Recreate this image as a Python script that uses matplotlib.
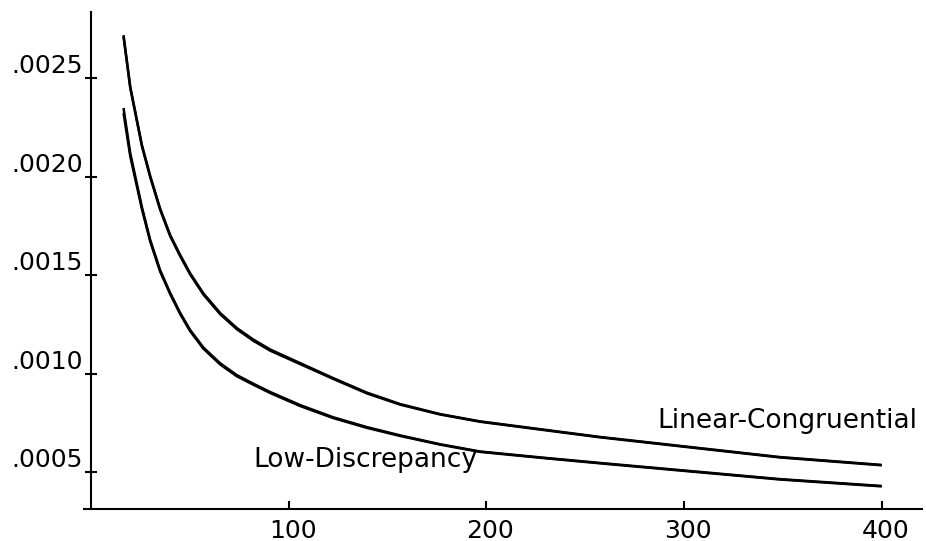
import matplotlib
matplotlib.use('Agg')
import matplotlib.pyplot as plt
from matplotlib.transforms import ScaledTranslation

# sample sizes (x) and the error estimates
n_points = [16.5, 19.9, 25.8, 30.0, 35.0, 40.1, 45.2, 50.2, 56.9, 65.4, 73.8, 82.2,
            90.7, 105.8, 122.5, 139.6, 156.4, 176.6, 196.9, 230.6, 257.5, 348.4, 400]
lin_cong_a = [0.002718, 0.002456, 0.00216, 0.002003, 0.001838, 0.001703, 0.001601, 0.001509,
              0.001407, 0.001307, 0.001231, 0.001172, 0.001122, 0.001053, 0.000977, 0.000903,
              0.000845, 0.000794, 0.000757, 0.000713, 0.000678, 0.000576, 0.000536]
lin_cong_b = [0.00271, 0.00245, 0.002154, 0.001997, 0.001832, 0.001697, 0.001595, 0.001503,
              0.001401, 0.001301, 0.001225, 0.001166, 0.001116, 0.001048, 0.000973, 0.000899,
              0.000842, 0.000792, 0.000755, 0.000711, 0.000676, 0.000574, 0.000534]
low_disc_a = [0.002348, 0.002119, 0.001845, 0.001678, 0.001525, 0.001409, 0.001307, 0.001221,
              0.001132, 0.001052, 0.000992, 0.000948, 0.000906, 0.00084, 0.000778, 0.000728,
              0.000686, 0.000641, 0.000604, 0.000571, 0.000546, 0.000464, 0.000429]
low_disc_b = [0.002322, 0.002103, 0.001835, 0.00167, 0.001518, 0.001403, 0.001301, 0.001215,
              0.001126, 0.001046, 0.000986, 0.000943, 0.000901, 0.000835, 0.000774, 0.000724,
              0.000683, 0.000639, 0.000602, 0.000569, 0.000544, 0.000462, 0.000427]

x_ticks = [100, 200, 300, 400]
y_ticks = [0.0005, 0.0010, 0.0015, 0.0020, 0.0025]
y_tick_labels = ['.0005', '.0010', '.0015', '.0020', '.0025']

plt.rcParams['font.family'] = ['DejaVu Sans']

fig = plt.figure(figsize=(9.26, 5.41), dpi=100)
ax = fig.add_axes([0.0907, 0.0591, 0.905, 0.9193])

for ys in (lin_cong_a, lin_cong_b, low_disc_a, low_disc_b):
    ax.plot(n_points, ys, color='black', lw=1.8, solid_capstyle='butt', solid_joinstyle='round')

ax.set_xlim(-3.5, 420.4)
ax.set_ylim(0.000312, 0.002837)

for side in ('top', 'right'):
    ax.spines[side].set_visible(False)
ax.spines['left'].set_position(('data', 0))
for side in ('left', 'bottom'):
    ax.spines[side].set_linewidth(1.5)

ax.set_xticks(x_ticks)
ax.set_xticklabels([str(t) for t in x_ticks])
ax.set_yticks(y_ticks)
ax.set_yticklabels(y_tick_labels)
ax.tick_params(axis='x', direction='in', length=6, width=1.5, pad=7, labelsize=18)
ax.tick_params(axis='y', direction='inout', length=8, width=1.5, pad=2, labelsize=18)

# labels sit a little above their ticks in the original
for lbl in ax.get_yticklabels():
    lbl.set_va('baseline')
    lbl.set_transform(lbl.get_transform() + ScaledTranslation(0, 0.05, fig.dpi_scale_trans))
for lbl in ax.get_xticklabels():
    lbl.set_transform(lbl.get_transform() + ScaledTranslation(0.04, 0, fig.dpi_scale_trans))

ax.text(352.4, 0.000723, 'Linear-Congruential', ha='center', va='baseline', fontsize=19)
ax.text(138.9, 0.000525, 'Low-Discrepancy', ha='center', va='baseline', fontsize=19)

fig.savefig('out.png', dpi=100)
